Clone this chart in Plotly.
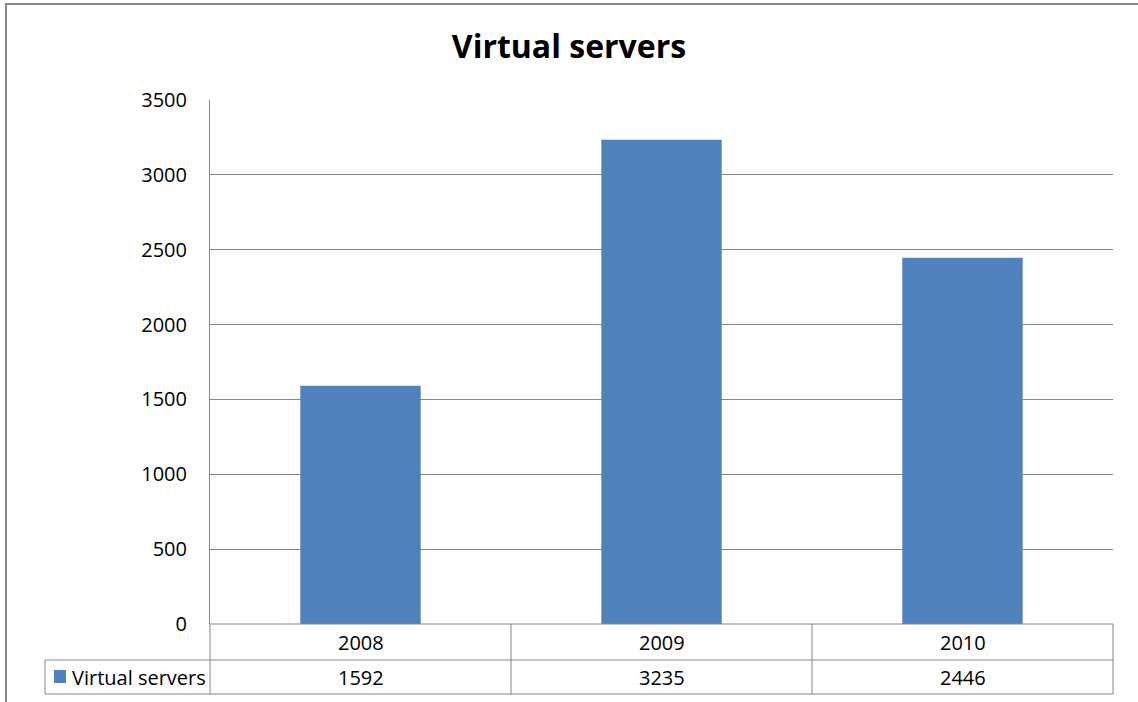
import plotly.graph_objects as go

years = ["2008", "2009", "2010"]
servers = [1592, 3235, 2446]
series_name = "Virtual servers"
y_ticks = [0, 500, 1000, 1500, 2000, 2500, 3000, 3500]

W, H = 1138, 702
L, R, T, B = 210, 25, 100, 78
pw, ph = W - L - R, H - T - B

def px_x(p):
    return (p - L) / pw

def px_y(p):
    return (H - B - p) / ph

FONT = "'Open Sans', Lato, sans-serif"
BLUE = "#4F81BD"
GRID = "#868686"

fig = go.Figure()
fig.add_trace(go.Bar(x=years, y=servers, name=series_name,
                     marker=dict(color=BLUE, line=dict(width=0)), width=0.4))

shapes = []
line = dict(color=GRID, width=1)
row1 = px_y(660)
row2 = px_y(694)
leg_left = px_x(45)
# horizontal table lines
shapes.append(dict(type="line", xref="paper", yref="paper", x0=leg_left, x1=1, y0=row1, y1=row1, line=line))
shapes.append(dict(type="line", xref="paper", yref="paper", x0=leg_left, x1=1, y0=row2, y1=row2, line=line))
# vertical table lines
shapes.append(dict(type="line", xref="paper", yref="paper", x0=leg_left, x1=leg_left, y0=row1, y1=row2, line=line))
shapes.append(dict(type="line", xref="paper", yref="paper", x0=0, x1=0, y0=0, y1=row2, line=line))
shapes.append(dict(type="line", xref="paper", yref="paper", x0=1, x1=1, y0=0, y1=row2, line=line))
shapes.append(dict(type="line", xref="paper", yref="paper", x0=0, x1=1, y0=0, y1=0, line=line))
for k in range(1, len(years)):
    shapes.append(dict(type="line", xref="x", yref="paper", x0=k - 0.5, x1=k - 0.5, y0=0, y1=row2, line=line))
# legend key
shapes.append(dict(type="rect", xref="paper", yref="paper", x0=px_x(54), x1=px_x(66),
                   y0=px_y(683), y1=px_y(670), fillcolor=BLUE, line=dict(width=0)))
# outer chart border
shapes.append(dict(type="rect", xref="paper", yref="paper", x0=px_x(6), x1=px_x(1160),
                   y0=px_y(720), y1=px_y(4), line=dict(color="#878787", width=2), fillcolor="rgba(0,0,0,0)"))

annotations = []
for i, (yr, v) in enumerate(zip(years, servers)):
    annotations.append(dict(x=i, xref="x", y=(0 + row1) / 2, yref="paper", text=yr, showarrow=False,
                            font=dict(family=FONT, size=20, color="#000"), xanchor="center", yanchor="middle"))
    annotations.append(dict(x=i, xref="x", y=(row1 + row2) / 2, yref="paper", text=str(v), showarrow=False,
                            font=dict(family=FONT, size=20, color="#000"), xanchor="center", yanchor="middle"))
annotations.append(dict(x=px_x(70), xref="paper", y=(row1 + row2) / 2, yref="paper", text=series_name,
                        showarrow=False, font=dict(family=FONT, size=20, color="#000"),
                        xanchor="left", yanchor="middle"))

fig.update_layout(
    width=W, height=H,
    margin=dict(l=L, r=R, t=T, b=B),
    paper_bgcolor="white", plot_bgcolor="white",
    showlegend=False,
    title=dict(text="<b>Virtual servers</b>", x=0.5, xref="container", y=1 - 47 / H, yanchor="middle",
               font=dict(family=FONT, size=32, color="#000")),
    xaxis=dict(type="category", range=[-0.5, 2.5], showticklabels=False, showgrid=False, zeroline=False,
               showline=False, ticks=""),
    yaxis=dict(range=[0, 3500], tickvals=y_ticks, showgrid=True, gridcolor=GRID, gridwidth=1,
               zeroline=False, showline=True, linecolor=GRID, linewidth=1, ticks="",
               ticklabelstandoff=18, tickfont=dict(family=FONT, size=20, color="#000")),
    shapes=shapes, annotations=annotations,
    bargap=0.6,
)

fig.write_html("out.html")
